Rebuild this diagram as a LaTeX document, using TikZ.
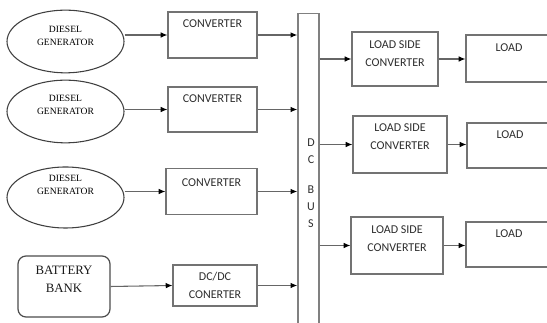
\documentclass[tikz,border=0pt]{standalone}
\usepackage{fontspec}
\setmainfont{Liberation Serif}
\newfontfamily\calib{Carlito}
\usetikzlibrary{arrows.meta,shapes.geometric}

\tikzset{
  box/.style={draw=black!55, line width=0.9pt, rectangle, inner sep=0pt},
  gen/.style={draw=black!75, line width=0.8pt, ellipse, inner sep=0pt,
              minimum width=87.75pt, minimum height=47pt},
  batt/.style={draw=black!70, line width=0.9pt, rectangle, rounded corners=6pt,
               inner sep=0pt},
  stxt/.style={font=\calib\fontsize{9}{13.5}\selectfont, text=black!82, align=center},
  rtxt/.style={font=\rmfamily\fontsize{7.2}{9.75}\selectfont, text=black, align=center},
  btxt/.style={font=\rmfamily\fontsize{9.6}{13.5}\selectfont, text=black!90, align=center},
  arr/.style={draw=black!60, line width=0.8pt,
              -{Latex[length=5pt,width=4.2pt,fill=black,color=black]}},
}

\begin{document}
\begin{tikzpicture}[x=0.75pt,y=-0.75pt]
  \clip (0,0) rectangle (547,323);
  \fill[white] (0,0) rectangle (547,323);

  % sources
  \node[gen, label={[rtxt,yshift=4.5pt]center:DIESEL\\GENERATOR}] (g1) at (65.5,41.5) {};
  \node[gen, label={[rtxt,yshift=5.2pt]center:DIESEL\\GENERATOR}] (g2) at (65.5,111.5) {};
  \node[gen, minimum height=45.75pt, label={[rtxt,yshift=9.4pt]center:DIESEL\\GENERATOR}] (g3) at (65.5,197.5) {};
  \node[batt, minimum width=69pt, minimum height=45.75pt,
        label={[btxt,yshift=5.6pt]center:BATTERY\\BANK}] (bat) at (64,286.5) {};

  % source side converters
  \node[box, minimum width=66.75pt, minimum height=34.5pt,
        label={[stxt,yshift=8.2pt]center:CONVERTER}] (c1) at (212.5,35) {};
  \node[box, minimum width=66.75pt, minimum height=33.75pt,
        label={[stxt,yshift=7.9pt]center:CONVERTER}] (c2) at (212.5,109.5) {};
  \node[box, minimum width=68.25pt, minimum height=34.5pt,
        label={[stxt,yshift=6.8pt]center:CONVERTER}] (c3) at (211.5,191.5) {};
  \node[box, stxt, minimum width=63pt, minimum height=30.75pt] (dc) at (215,285.5)
        {DC/DC\\CONERTER};

  % DC bus
  \node[box, draw=black!50, line width=1.1pt, minimum width=15.75pt, minimum height=240pt,
        anchor=north] (bus) at (308.5,13) {};
  \node[stxt, font=\calib\fontsize{9}{13}\selectfont] (bustxt) at (311,183.5)
        {D\\C\\[9pt]B\\U\\S};

  % load side converters
  \node[box, minimum width=64.5pt, minimum height=40.5pt,
        label={[stxt,yshift=3.8pt]center:LOAD SIDE\\CONVERTER}] (l1) at (395,59) {};
  \node[box, minimum width=70.5pt, minimum height=42.75pt,
        label={[stxt,yshift=5.6pt]center:LOAD SIDE\\CONVERTER}] (l2) at (400,144.5) {};
  \node[box, minimum width=69pt, minimum height=42.75pt,
        label={[stxt,yshift=4.9pt]center:LOAD SIDE\\CONVERTER}] (l3) at (397,245.5) {};

  % loads
  \node[box, minimum width=64.5pt, minimum height=35.25pt,
        label={[stxt,yshift=7.9pt]center:LOAD}] (o1) at (509,58.5) {};
  \node[box, minimum width=64.5pt, minimum height=33.75pt,
        label={[stxt,yshift=7.9pt]center:LOAD}] (o2) at (510,145.5) {};
  \node[box, minimum width=64.5pt, minimum height=33.75pt,
        label={[stxt,yshift=7.9pt]center:LOAD}] (o3) at (509,244.5) {};

  % connections into the converters
  \draw[arr] (g1.east |- c1.west) -- (c1.west);
  \draw[arr] (g2.east |- c2.west) -- (c2.west);
  \draw[arr] (g3.east |- c3.west) -- (c3.west);
  \draw[arr] (bat.east) -- (dc.west);

  % converters feeding the bus
  \draw[arr] (c1.east) -- (c1.east -| bus.west);
  \draw[arr] (c2.east) -- (c2.east -| bus.west);
  \draw[arr] (c3.east) -- (c3.east -| bus.west);
  \draw[arr] (dc.east) -- (dc.east -| bus.west);

  % bus to load side converters, then on to the loads
  \draw[arr] (bus.east |- l1.west) -- (l1.west);
  \draw[arr] (bus.east |- l2.west) -- (l2.west);
  \draw[arr] (bus.east |- l3.west) -- (l3.west);
  \draw[arr] (l1.east) -- (l1.east -| o1.west);
  \draw[arr] (l2.east) -- (l2.east -| o2.west);
  \draw[arr] (l3.east) -- (l3.east -| o3.west);
\end{tikzpicture}
\end{document}
